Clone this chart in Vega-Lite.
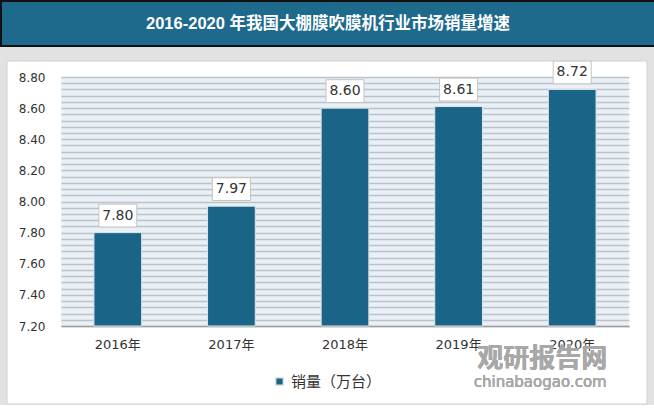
{
  "$schema": "https://vega.github.io/schema/vega-lite/v6.json",
  "background": "#e2e2e2",
  "padding": 0,
  "spacing": 31,
  "bounds": "flush",
  "config": {"view": {"stroke": null}, "font": "DejaVu Sans, Noto Sans CJK SC"},
  "vconcat": [
    {
      "width": 594,
      "height": 45,
      "data": {"values": [{"title": "2016-2020 年我国大棚膜吹膜机行业市场销量增速"}]},
      "encoding": {},
      "layer": [
        {
          "mark": {"type": "rect", "fill": "white", "stroke": "#d2d2d2", "strokeWidth": 1},
          "encoding": {
            "x": {"datum": -54, "type": "quantitative", "scale": {"domain": [0, 594], "nice": false, "zero": false}, "axis": null},
            "x2": {"datum": 586},
            "y": {"datum": 60, "type": "quantitative", "scale": {"domain": [0, 45], "reverse": true, "nice": false, "zero": false}, "axis": null},
            "y2": {"datum": 403}
          }
        },
        {
          "mark": {"type": "rect", "fill": "#1e6a8d", "stroke": "#111111", "strokeWidth": 2},
          "encoding": {
            "x": {"datum": -60, "type": "quantitative"},
            "x2": {"datum": 595}
          }
        },
        {
          "mark": {"type": "text", "color": "white", "fontSize": 16.5, "fontWeight": "bold", "font": "Liberation Sans, Noto Sans CJK SC", "baseline": "middle"},
          "encoding": {
            "x": {"datum": 267, "type": "quantitative"},
            "text": {"field": "title", "type": "nominal"}
          }
        }
      ]
    },
    {
      "width": 568,
      "height": 249,
      "view": {"fill": "#e9f0f7"},
      "data": {"values": [
        {"year": "2016年", "sales": 7.80},
        {"year": "2017年", "sales": 7.97},
        {"year": "2018年", "sales": 8.60},
        {"year": "2019年", "sales": 8.61},
        {"year": "2020年", "sales": 8.72}
      ]},
      "encoding": {
        "x": {
          "field": "year", "type": "nominal", "sort": null,
          "scale": {"paddingInner": 0.58, "paddingOuter": 0.29},
          "axis": {"title": null, "labelAngle": 0, "ticks": false, "domainColor": "#a0a0a0", "domainWidth": 1.5, "labelFontSize": 13, "labelColor": "#333333", "labelPadding": 12}
        },
        "y": {
          "field": "sales", "type": "quantitative",
          "scale": {"domain": [7.2, 8.8], "zero": false, "nice": false},
          "axis": {
            "title": null,
            "values": [7.2,7.24,7.28,7.32,7.36,7.4,7.44,7.48,7.52,7.56,7.6,7.64,7.68,7.72,7.76,7.8,7.84,7.88,7.92,7.96,8,8.04,8.08,8.12,8.16,8.2,8.24,8.28,8.32,8.36,8.4,8.44,8.48,8.52,8.56,8.6,8.64,8.68,8.72,8.76,8.8],
            "labelExpr": "(round(datum.value*100) % 20 == 0) ? format(datum.value, '.2f') : ''",
            "labelOverlap": false,
            "grid": true, "gridColor": "#bcc2c8", "gridWidth": 1.3,
            "domain": false, "ticks": false,
            "labelFontSize": 12, "labelColor": "#333333", "labelPadding": 16,
            "minExtent": 60
          }
        }
      },
      "layer": [
        {
          "mark": {"type": "bar", "stroke": "#dde4ea", "strokeWidth": 1},
          "encoding": {
            "y2": {"datum": 7.2},
            "color": {
              "datum": "销量（万台）", "type": "nominal",
              "scale": {"range": ["#1a6587"]},
              "legend": {"orient": "none", "legendX": 203, "legendY": 365, "title": null, "symbolType": "square", "symbolSize": 60, "labelFontSize": 15, "labelColor": "#333333", "fillColor": "white", "padding": 8}
            }
          }
        },
        {
          "mark": {"type": "point", "shape": "M-1,-0.6L1,-0.6L1,0.6L-1,0.6Z", "size": 1444, "filled": true, "fill": "white", "stroke": "#c4c4c4", "strokeWidth": 1, "opacity": 1, "yOffset": -17}
        },
        {
          "mark": {"type": "text", "dy": -17, "fontSize": 14, "color": "#333333", "baseline": "middle"},
          "encoding": {
            "text": {"field": "sales", "type": "quantitative", "format": ".2f"}
          }
        },
        {
          "mark": {"type": "text", "dx": -30, "fontSize": 26, "fontWeight": "bold", "color": "#a8a8a8", "opacity": 0.75, "baseline": "middle"},
          "encoding": {
            "x": {"datum": "2020年", "type": "nominal"},
            "y": {"datum": 6.99, "type": "quantitative"},
            "text": {"value": "观研报告网"}
          }
        },
        {
          "mark": {"type": "text", "dx": -32, "fontSize": 15, "color": "#a8a8a8", "opacity": 0.85, "baseline": "middle"},
          "encoding": {
            "x": {"datum": "2020年", "type": "nominal"},
            "y": {"datum": 6.84, "type": "quantitative"},
            "text": {"value": "chinabaogao.com"}
          }
        }
      ]
    }
  ]
}
